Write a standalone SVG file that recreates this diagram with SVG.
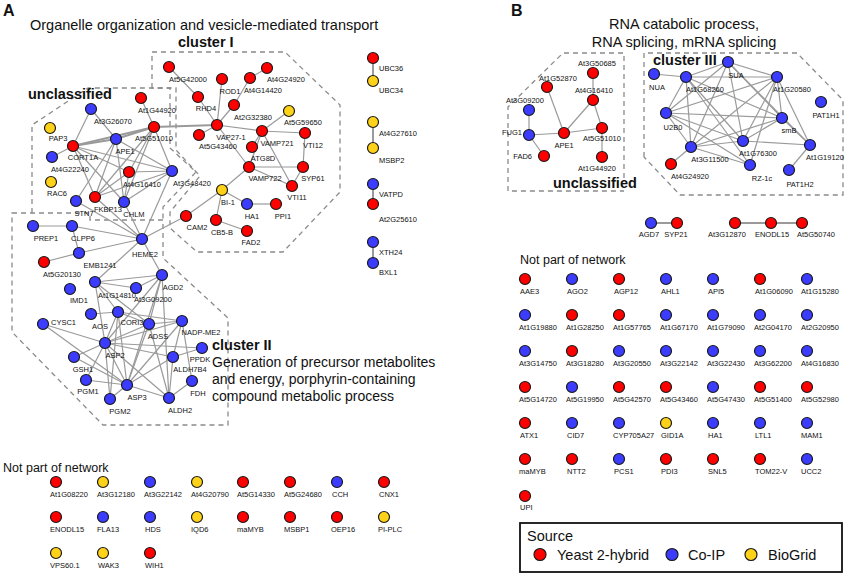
<svg xmlns="http://www.w3.org/2000/svg" width="852" height="576" viewBox="0 0 852 576">
<style>
text{font-family:"Liberation Sans",Arial,sans-serif;fill:#111}
.n circle{stroke:#1a1a1a;stroke-width:1.2}
.r{fill:#ff0000}.b{fill:#3c3cff}.y{fill:#ffd21a}
.n text{font-size:7.5px;text-anchor:middle}
.n text.s{text-anchor:start}
.n text.e{text-anchor:end}
#edges line{stroke:#9a9a9a;stroke-width:1.2}
#edges line.t{stroke-width:2}
.d{fill:none;stroke:#8a8a8a;stroke-width:1.3;stroke-dasharray:5 4}
.h{font-size:14.5px}
.bh{font-size:14.5px;font-weight:bold}
.np{font-size:12.5px}
.pl{font-size:16px;font-weight:bold}
</style>
<rect width="852" height="576" fill="#fff"/>
<text class="pl" x="3" y="16">A</text>
<text class="pl" x="511" y="16">B</text>
<text class="h" x="30" y="30">Organelle organization and vesicle-mediated transport</text>
<text class="h" x="684" y="29" text-anchor="middle">RNA catabolic process,</text>
<text class="h" x="684" y="47" text-anchor="middle">RNA splicing, mRNA splicing</text>
<g id="regions">
<path class="d" d="M152,88 L152,52 L285,52 L340,105 L340,192 L283,252 L197,252 L170,228 L170,212 L200,176 L176,150 L176,88 Z"/>
<path class="d" d="M32,213 L32,125 L88,88 L170,88 L170,148 L196,172 L163,207 L163,220"/>
<path class="d" d="M12,213 L90,213 L90,220 L163,220 L163,258 L228,318 L228,425 L103,425 L12,332 Z"/>
<path class="d" d="M624,178 L624,53 L563,53 L508,107 L508,191 L624,191"/>
<path class="d" d="M644,157 L644,53 L797,53 L843,100 L843,195 L680,195 Z"/>
</g>
<text class="bh" x="178" y="47">cluster I</text>
<text class="bh" x="28" y="99">unclassified</text>
<text class="bh" x="212" y="350">cluster II</text>
<text font-size="14" x="212" y="367">Generation of precursor metabolites</text>
<text font-size="14" x="212" y="384">and energy, porphyrin-containing</text>
<text font-size="14" x="212" y="401">compound metabolic process</text>
<text class="bh" x="553" y="188">unclassified</text>
<text class="bh" x="653" y="65">cluster III</text>
<g id="edges">
<line x1="169" y1="67" x2="198" y2="97"/><line x1="198" y1="97" x2="217" y2="125"/><line x1="222" y1="79" x2="217" y2="125"/>
<line x1="267" y1="68" x2="250" y2="78"/><line x1="250" y1="78" x2="234" y2="105"/><line x1="234" y1="105" x2="217" y2="125"/>
<line class="t" x1="217" y1="125" x2="154" y2="127"/><line x1="217" y1="125" x2="262" y2="131"/><line x1="217" y1="125" x2="249" y2="167"/><line x1="217" y1="125" x2="199" y2="135"/>
<line x1="289" y1="111" x2="262" y2="131"/><line x1="262" y1="131" x2="305" y2="133"/><line x1="262" y1="131" x2="252" y2="147"/><line x1="262" y1="131" x2="292" y2="186"/>
<line x1="305" y1="133" x2="303" y2="167"/><line x1="262" y1="131" x2="249" y2="167"/><line x1="249" y1="167" x2="303" y2="167"/><line x1="249" y1="167" x2="292" y2="186"/>
<line x1="303" y1="167" x2="292" y2="186"/><line x1="249" y1="167" x2="222" y2="190"/><line x1="222" y1="190" x2="247" y2="204"/><line x1="247" y1="204" x2="276" y2="204"/>
<line x1="222" y1="190" x2="216" y2="220"/><line x1="216" y1="220" x2="247" y2="231"/><line x1="222" y1="190" x2="186" y2="216"/><line x1="186" y1="216" x2="142" y2="239"/>
<line x1="91" y1="109" x2="73" y2="146"/><line x1="91" y1="109" x2="116" y2="139"/><line x1="52" y1="157" x2="73" y2="146"/><line class="t" x1="73" y1="146" x2="116" y2="139"/>
<line class="t" x1="73" y1="146" x2="154" y2="127"/><line x1="73" y1="146" x2="129" y2="172"/><line x1="73" y1="146" x2="172" y2="171"/><line x1="73" y1="146" x2="95" y2="197"/>
<line x1="73" y1="146" x2="124" y2="202"/><line class="t" x1="116" y1="139" x2="154" y2="127"/><line x1="116" y1="139" x2="76" y2="201"/><line x1="116" y1="139" x2="95" y2="197"/>
<line x1="116" y1="139" x2="124" y2="202"/><line x1="116" y1="139" x2="172" y2="171"/><line x1="141" y1="98" x2="154" y2="127"/><line x1="154" y1="127" x2="172" y2="171"/>
<line x1="154" y1="127" x2="95" y2="197"/><line x1="154" y1="127" x2="124" y2="202"/><line x1="154" y1="127" x2="129" y2="172"/><line x1="129" y1="172" x2="95" y2="197"/>
<line x1="129" y1="172" x2="124" y2="202"/><line x1="129" y1="172" x2="172" y2="171"/><line x1="172" y1="171" x2="95" y2="197"/><line x1="172" y1="171" x2="124" y2="202"/>
<line x1="172" y1="171" x2="142" y2="239"/><line x1="95" y1="197" x2="142" y2="239"/><line x1="124" y1="202" x2="142" y2="239"/><line x1="76" y1="201" x2="142" y2="239"/>
<line x1="33" y1="226" x2="72" y2="226"/><line x1="72" y1="226" x2="142" y2="239"/><line x1="72" y1="226" x2="79" y2="253"/><line x1="79" y1="253" x2="44" y2="262"/>
<line x1="79" y1="253" x2="142" y2="239"/><line x1="142" y1="239" x2="95" y2="282"/><line x1="142" y1="239" x2="162" y2="275"/><line x1="95" y1="282" x2="136" y2="288"/>
<line x1="95" y1="282" x2="162" y2="275"/><line x1="95" y1="282" x2="118" y2="312"/><line x1="95" y1="282" x2="105" y2="343"/><line x1="95" y1="282" x2="149" y2="324"/>
<line x1="162" y1="275" x2="136" y2="288"/><line x1="162" y1="275" x2="149" y2="324"/><line x1="162" y1="275" x2="105" y2="343"/><line x1="162" y1="275" x2="127" y2="385"/>
<line x1="162" y1="275" x2="169" y2="398"/><line x1="91" y1="314" x2="118" y2="312"/><line x1="118" y1="312" x2="149" y2="324"/><line x1="118" y1="312" x2="105" y2="343"/>
<line x1="118" y1="312" x2="127" y2="385"/><line x1="118" y1="312" x2="110" y2="399"/><line x1="118" y1="312" x2="182" y2="321"/><line x1="43" y1="324" x2="105" y2="343"/>
<line x1="43" y1="324" x2="127" y2="385"/><line x1="149" y1="324" x2="182" y2="321"/><line x1="149" y1="324" x2="105" y2="343"/><line x1="149" y1="324" x2="127" y2="385"/>
<line x1="149" y1="324" x2="169" y2="398"/><line x1="182" y1="321" x2="105" y2="343"/><line x1="182" y1="321" x2="127" y2="385"/><line x1="182" y1="321" x2="192" y2="381"/>
<line x1="182" y1="321" x2="173" y2="357"/><line x1="105" y1="343" x2="202" y2="348"/><line x1="105" y1="343" x2="173" y2="357"/><line x1="105" y1="343" x2="74" y2="357"/>
<line x1="105" y1="343" x2="127" y2="385"/><line x1="105" y1="343" x2="86" y2="380"/><line x1="105" y1="343" x2="110" y2="399"/><line x1="105" y1="343" x2="169" y2="398"/>
<line x1="202" y1="348" x2="173" y2="357"/><line x1="173" y1="357" x2="169" y2="398"/><line x1="173" y1="357" x2="127" y2="385"/><line x1="74" y1="357" x2="127" y2="385"/>
<line x1="86" y1="380" x2="127" y2="385"/><line x1="110" y1="399" x2="127" y2="385"/><line x1="127" y1="385" x2="169" y2="398"/><line x1="192" y1="381" x2="169" y2="398"/>
<line class="t" x1="373" y1="58" x2="373" y2="81"/><line class="t" x1="373" y1="122" x2="373" y2="148"/><line class="t" x1="373" y1="184" x2="373" y2="204"/><line class="t" x1="373" y1="242" x2="373" y2="263"/>
<line x1="593" y1="73" x2="593" y2="100"/><line x1="547" y1="87" x2="564" y2="133"/><line x1="593" y1="100" x2="564" y2="133"/><line x1="593" y1="100" x2="602" y2="128"/>
<line x1="564" y1="133" x2="602" y2="128"/><line x1="602" y1="128" x2="602" y2="157"/><line x1="529" y1="110" x2="529" y2="135"/><line x1="529" y1="135" x2="564" y2="133"/><line x1="529" y1="135" x2="544" y2="156"/>
<line x1="654" y1="74" x2="686" y2="77"/><line x1="686" y1="77" x2="728" y2="62"/><line x1="686" y1="77" x2="777" y2="77"/><line x1="686" y1="77" x2="666" y2="113"/>
<line x1="686" y1="77" x2="782" y2="118"/><line x1="686" y1="77" x2="743" y2="141"/><line x1="686" y1="77" x2="691" y2="147"/><line x1="686" y1="77" x2="750" y2="165"/>
<line x1="728" y1="62" x2="777" y2="77"/><line x1="728" y1="62" x2="666" y2="113"/><line x1="728" y1="62" x2="782" y2="118"/><line x1="728" y1="62" x2="743" y2="141"/>
<line x1="728" y1="62" x2="691" y2="147"/><line x1="728" y1="62" x2="810" y2="145"/><line x1="777" y1="77" x2="666" y2="113"/><line x1="777" y1="77" x2="782" y2="118"/>
<line x1="777" y1="77" x2="743" y2="141"/><line x1="777" y1="77" x2="691" y2="147"/><line x1="777" y1="77" x2="810" y2="145"/><line x1="777" y1="77" x2="750" y2="165"/>
<line x1="666" y1="113" x2="782" y2="118"/><line x1="666" y1="113" x2="691" y2="147"/><line x1="666" y1="113" x2="743" y2="141"/><line x1="666" y1="113" x2="750" y2="165"/>
<line x1="782" y1="118" x2="691" y2="147"/><line x1="782" y1="118" x2="743" y2="141"/><line x1="782" y1="118" x2="810" y2="145"/><line x1="691" y1="147" x2="743" y2="141"/>
<line x1="743" y1="141" x2="810" y2="145"/><line x1="691" y1="147" x2="671" y2="164"/><line x1="691" y1="147" x2="750" y2="165"/><line x1="810" y1="145" x2="789" y2="170"/>
<line class="t" x1="651" y1="223" x2="677" y2="223"/><line class="t" x1="735" y1="223" x2="771" y2="223"/><line class="t" x1="771" y1="223" x2="802" y2="223"/>
</g>
<g id="nodesA">
<g class="n" id="nA_At5G42000"><circle class="r" cx="169" cy="67" r="5.5"/><text x="188" y="81.5">At5G42000</text></g>
<g class="n" id="nA_ROD1"><circle class="r" cx="222" cy="79" r="5.5"/><text x="230" y="93.5">ROD1</text></g>
<g class="n" id="nA_At4G24920"><circle class="r" cx="267" cy="68" r="5.5"/><text x="286" y="82">At4G24920</text></g>
<g class="n" id="nA_At4G14420"><circle class="r" cx="250" cy="78" r="5.5"/><text x="263" y="93">At4G14420</text></g>
<g class="n" id="nA_RHD4"><circle class="r" cx="198" cy="97" r="5.5"/><text x="206" y="111">RHD4</text></g>
<g class="n" id="nA_At2G32380"><circle class="r" cx="234" cy="105" r="5.5"/><text x="253" y="119.5">At2G32380</text></g>
<g class="n" id="nA_At5G59650"><circle class="y" cx="289" cy="111" r="5.5"/><text x="303" y="125">At5G59650</text></g>
<g class="n" id="nA_VAP27-1"><circle class="r" cx="217" cy="125" r="5.5"/><text x="231" y="139.5">VAP27-1</text></g>
<g class="n" id="nA_At5G43460"><circle class="r" cx="199" cy="135" r="5.5"/><text x="218" y="149">At5G43460</text></g>
<g class="n" id="nA_VAMP721"><circle class="r" cx="262" cy="131" r="5.5"/><text x="277" y="145.5">VAMP721</text></g>
<g class="n" id="nA_VTI12"><circle class="r" cx="305" cy="133" r="5.5"/><text x="313" y="148">VTI12</text></g>
<g class="n" id="nA_ATG8D"><circle class="r" cx="252" cy="147" r="5.5"/><text x="263" y="161">ATG8D</text></g>
<g class="n" id="nA_VAMP722"><circle class="r" cx="249" cy="167" r="5.5"/><text x="265" y="180.5">VAMP722</text></g>
<g class="n" id="nA_SYP61"><circle class="r" cx="303" cy="167" r="5.5"/><text x="313" y="180.5">SYP61</text></g>
<g class="n" id="nA_VTI11"><circle class="r" cx="292" cy="186" r="5.5"/><text x="297" y="199.5">VTI11</text></g>
<g class="n" id="nA_BI-1"><circle class="y" cx="222" cy="190" r="5.5"/><text x="228" y="204.5">BI-1</text></g>
<g class="n" id="nA_HA1"><circle class="b" cx="247" cy="204" r="5.5"/><text x="252" y="218.5">HA1</text></g>
<g class="n" id="nA_PPI1"><circle class="r" cx="276" cy="204" r="5.5"/><text x="283" y="218.5">PPI1</text></g>
<g class="n" id="nA_CAM2"><circle class="r" cx="186" cy="216" r="5.5"/><text x="197" y="230">CAM2</text></g>
<g class="n" id="nA_CB5-B"><circle class="r" cx="216" cy="220" r="5.5"/><text x="222" y="234.5">CB5-B</text></g>
<g class="n" id="nA_FAD2"><circle class="r" cx="247" cy="231" r="5.5"/><text x="251" y="245">FAD2</text></g>
<g class="n" id="nA_At1G44920"><circle class="r" cx="141" cy="98" r="5.5"/><text x="157" y="113">At1G44920</text></g>
<g class="n" id="nA_At5G51010"><circle class="r" cx="154" cy="127" r="5.5"/><text x="154" y="141">At5G51010</text></g>
<g class="n" id="nA_At3G26070"><circle class="b" cx="91" cy="109" r="5.5"/><text x="113" y="123.5">At3G26070</text></g>
<g class="n" id="nA_PAP3"><circle class="y" cx="50" cy="128" r="5.5"/><text x="58" y="141">PAP3</text></g>
<g class="n" id="nA_CORT1A"><circle class="r" cx="73" cy="146" r="5.5"/><text x="83" y="160">CORT1A</text></g>
<g class="n" id="nA_APE1"><circle class="b" cx="116" cy="139" r="5.5"/><text x="125" y="153.5">APE1</text></g>
<g class="n" id="nA_At4G22240"><circle class="b" cx="52" cy="157" r="5.5"/><text x="70" y="172">At4G22240</text></g>
<g class="n" id="nA_At4G16410"><circle class="r" cx="129" cy="172" r="5.5"/><text x="142" y="187">At4G16410</text></g>
<g class="n" id="nA_At3G48420"><circle class="b" cx="172" cy="171" r="5.5"/><text x="192" y="186">At3G48420</text></g>
<g class="n" id="nA_RAC6"><circle class="y" cx="51" cy="182" r="5.5"/><text x="57" y="196">RAC6</text></g>
<g class="n" id="nA_STN7"><circle class="b" cx="76" cy="201" r="5.5"/><text x="84" y="216">STN7</text></g>
<g class="n" id="nA_FKBP13"><circle class="r" cx="95" cy="197" r="5.5"/><text x="108" y="211.5">FKBP13</text></g>
<g class="n" id="nA_CHLM"><circle class="b" cx="124" cy="202" r="5.5"/><text x="134" y="217">CHLM</text></g>
<g class="n" id="nA_PREP1"><circle class="b" cx="33" cy="226" r="5.5"/><text x="46" y="240.5">PREP1</text></g>
<g class="n" id="nA_CLPP6"><circle class="b" cx="72" cy="226" r="5.5"/><text x="83" y="240.5">CLPP6</text></g>
<g class="n" id="nA_HEME2"><circle class="b" cx="142" cy="239" r="5.5"/><text x="145" y="256.5">HEME2</text></g>
<g class="n" id="nA_EMB1241"><circle class="b" cx="79" cy="253" r="5.5"/><text x="100" y="268">EMB1241</text></g>
<g class="n" id="nA_At5G20130"><circle class="r" cx="44" cy="262" r="5.5"/><text x="62" y="277">At5G20130</text></g>
<g class="n" id="nA_At1G14810"><circle class="b" cx="95" cy="282" r="5.5"/><text x="117" y="298">At1G14810</text></g>
<g class="n" id="nA_IMD1"><circle class="b" cx="70" cy="289" r="5.5"/><text x="79" y="303">IMD1</text></g>
<g class="n" id="nA_At3G09200"><circle class="b" cx="136" cy="288" r="5.5"/><text x="153" y="302">At3G09200</text></g>
<g class="n" id="nA_AGD2"><circle class="b" cx="162" cy="275" r="5.5"/><text x="173" y="289.5">AGD2</text></g>
<g class="n" id="nA_AOS"><circle class="b" cx="91" cy="314" r="5.5"/><text x="100" y="328.5">AOS</text></g>
<g class="n" id="nA_CORI3"><circle class="b" cx="118" cy="312" r="5.5"/><text x="132" y="325">CORI3</text></g>
<g class="n" id="nA_CYSC1"><circle class="b" cx="43" cy="324" r="5.5"/><text class="s" x="51" y="325">CYSC1</text></g>
<g class="n" id="nA_ADSS"><circle class="b" cx="149" cy="324" r="5.5"/><text x="158" y="338.5">ADSS</text></g>
<g class="n" id="nA_NADP-ME2"><circle class="b" cx="182" cy="321" r="5.5"/><text x="201" y="335">NADP-ME2</text></g>
<g class="n" id="nA_ASP2"><circle class="b" cx="105" cy="343" r="5.5"/><text x="115" y="358">ASP2</text></g>
<g class="n" id="nA_PPDK"><circle class="b" cx="202" cy="348" r="5.5"/><text x="200" y="362">PPDK</text></g>
<g class="n" id="nA_ALDH7B4"><circle class="b" cx="173" cy="357" r="5.5"/><text x="190" y="372">ALDH7B4</text></g>
<g class="n" id="nA_GSH1"><circle class="b" cx="74" cy="357" r="5.5"/><text x="83" y="372">GSH1</text></g>
<g class="n" id="nA_PGM1"><circle class="b" cx="86" cy="380" r="5.5"/><text x="88" y="394">PGM1</text></g>
<g class="n" id="nA_ASP3"><circle class="b" cx="127" cy="385" r="5.5"/><text x="137" y="399.5">ASP3</text></g>
<g class="n" id="nA_FDH"><circle class="b" cx="192" cy="381" r="5.5"/><text x="198" y="396">FDH</text></g>
<g class="n" id="nA_PGM2"><circle class="b" cx="110" cy="399" r="5.5"/><text x="120" y="413.5">PGM2</text></g>
<g class="n" id="nA_ALDH2"><circle class="b" cx="169" cy="398" r="5.5"/><text x="180" y="413">ALDH2</text></g>
<g class="n" id="nA_UBC36"><circle class="r" cx="373" cy="58" r="5.5"/><text class="s" x="379" y="71">UBC36</text></g>
<g class="n" id="nA_UBC34"><circle class="y" cx="373" cy="81" r="5.5"/><text class="s" x="379" y="93">UBC34</text></g>
<g class="n" id="nA_At4G27610"><circle class="y" cx="373" cy="122" r="5.5"/><text class="s" x="379" y="135.5">At4G27610</text></g>
<g class="n" id="nA_MSBP2"><circle class="y" cx="373" cy="148" r="5.5"/><text class="s" x="379" y="163">MSBP2</text></g>
<g class="n" id="nA_VATPD"><circle class="b" cx="373" cy="184" r="5.5"/><text class="s" x="379" y="197">VATPD</text></g>
<g class="n" id="nA_At2G25610"><circle class="r" cx="373" cy="204" r="5.5"/><text class="s" x="379" y="222">At2G25610</text></g>
<g class="n" id="nA_XTH24"><circle class="b" cx="373" cy="242" r="5.5"/><text class="s" x="379" y="254.5">XTH24</text></g>
<g class="n" id="nA_BXL1"><circle class="b" cx="373" cy="263" r="5.5"/><text class="s" x="379" y="275">BXL1</text></g>
</g>
<text class="np" x="3" y="472">Not part of network</text>
<g id="notpartA">
<g class="n" id="xA1"><circle class="r" cx="56" cy="482" r="5.5"/><text class="s" x="50" y="497">At1G08220</text></g>
<g class="n" id="xA2"><circle class="y" cx="103" cy="482" r="5.5"/><text class="s" x="97" y="497">At3G12180</text></g>
<g class="n" id="xA3"><circle class="b" cx="150" cy="482" r="5.5"/><text class="s" x="144" y="497">At3G22142</text></g>
<g class="n" id="xA4"><circle class="y" cx="197" cy="482" r="5.5"/><text class="s" x="191" y="497">At4G20790</text></g>
<g class="n" id="xA5"><circle class="r" cx="243" cy="482" r="5.5"/><text class="s" x="237" y="497">At5G14330</text></g>
<g class="n" id="xA6"><circle class="r" cx="290" cy="482" r="5.5"/><text class="s" x="284" y="497">At5G24680</text></g>
<g class="n" id="xA7"><circle class="b" cx="337" cy="482" r="5.5"/><text class="s" x="332" y="497">CCH</text></g>
<g class="n" id="xA8"><circle class="r" cx="384" cy="482" r="5.5"/><text class="s" x="379" y="497">CNX1</text></g>
<g class="n" id="xA9"><circle class="r" cx="56" cy="517" r="5.5"/><text class="s" x="50" y="532">ENODL15</text></g>
<g class="n" id="xA10"><circle class="b" cx="103" cy="517" r="5.5"/><text class="s" x="97" y="532">FLA13</text></g>
<g class="n" id="xA11"><circle class="b" cx="150" cy="517" r="5.5"/><text class="s" x="145" y="532">HDS</text></g>
<g class="n" id="xA12"><circle class="y" cx="197" cy="517" r="5.5"/><text class="s" x="191" y="532">IQD6</text></g>
<g class="n" id="xA13"><circle class="r" cx="243" cy="517" r="5.5"/><text class="s" x="237" y="532">maMYB</text></g>
<g class="n" id="xA14"><circle class="r" cx="290" cy="517" r="5.5"/><text class="s" x="284" y="532">MSBP1</text></g>
<g class="n" id="xA15"><circle class="r" cx="337" cy="517" r="5.5"/><text class="s" x="331" y="532">OEP16</text></g>
<g class="n" id="xA16"><circle class="y" cx="384" cy="517" r="5.5"/><text class="s" x="378" y="532">PI-PLC</text></g>
<g class="n" id="xA17"><circle class="y" cx="56" cy="553" r="5.5"/><text class="s" x="50" y="568">VPS60.1</text></g>
<g class="n" id="xA18"><circle class="y" cx="103" cy="553" r="5.5"/><text class="s" x="98" y="568">WAK3</text></g>
<g class="n" id="xA19"><circle class="r" cx="150" cy="553" r="5.5"/><text class="s" x="145" y="568">WIH1</text></g>
</g>
<g id="nodesB">
<g class="n" id="nB_At3G50685"><circle class="r" cx="593" cy="73" r="5.5"/><text x="597" y="65.5">At3G50685</text></g>
<g class="n" id="nB_At1G52870"><circle class="r" cx="547" cy="87" r="5.5"/><text x="558" y="81">At1G52870</text></g>
<g class="n" id="nB_At4G16410"><circle class="r" cx="593" cy="100" r="5.5"/><text x="594" y="92.5">At4G16410</text></g>
<g class="n" id="nB_At3G09200"><circle class="b" cx="529" cy="110" r="5.5"/><text x="525" y="102.5">At3G09200</text></g>
<g class="n" id="nB_FUG1"><circle class="b" cx="529" cy="135" r="5.5"/><text class="e" x="522" y="134.5">FUG1</text></g>
<g class="n" id="nB_APE1"><circle class="r" cx="564" cy="133" r="5.5"/><text x="564" y="147.5">APE1</text></g>
<g class="n" id="nB_At5G51010"><circle class="r" cx="602" cy="128" r="5.5"/><text x="602" y="141">At5G51010</text></g>
<g class="n" id="nB_FAD6"><circle class="r" cx="544" cy="156" r="5.5"/><text class="e" x="532" y="158.5">FAD6</text></g>
<g class="n" id="nB_At1G44920"><circle class="r" cx="602" cy="157" r="5.5"/><text x="597" y="171">At1G44920</text></g>
<g class="n" id="nB_NUA"><circle class="b" cx="654" cy="74" r="5.5"/><text x="657" y="89.5">NUA</text></g>
<g class="n" id="nB_At1G68260"><circle class="b" cx="686" cy="77" r="5.5"/><text x="705" y="91.5">At1G68260</text></g>
<g class="n" id="nB_SUA"><circle class="b" cx="728" cy="62" r="5.5"/><text x="736" y="77.5">SUA</text></g>
<g class="n" id="nB_At1G20580"><circle class="b" cx="777" cy="77" r="5.5"/><text x="792" y="92">At1G20580</text></g>
<g class="n" id="nB_PAT1H1"><circle class="b" cx="821" cy="102" r="5.5"/><text x="826" y="117.5">PAT1H1</text></g>
<g class="n" id="nB_U2B0"><circle class="b" cx="666" cy="113" r="5.5"/><text x="673" y="129.5">U2B0</text></g>
<g class="n" id="nB_smB"><circle class="b" cx="782" cy="118" r="5.5"/><text x="789" y="132.5">smB</text></g>
<g class="n" id="nB_At1G76300"><circle class="b" cx="743" cy="141" r="5.5"/><text x="758" y="156">At1G76300</text></g>
<g class="n" id="nB_At1G19120"><circle class="b" cx="810" cy="145" r="5.5"/><text x="825" y="160">At1G19120</text></g>
<g class="n" id="nB_At3G11500"><circle class="b" cx="691" cy="147" r="5.5"/><text x="710" y="161.5">At3G11500</text></g>
<g class="n" id="nB_At4G24920"><circle class="r" cx="671" cy="164" r="5.5"/><text x="690" y="178.5">At4G24920</text></g>
<g class="n" id="nB_RZ-1c"><circle class="b" cx="750" cy="165" r="5.5"/><text x="762" y="180.5">RZ-1c</text></g>
<g class="n" id="nB_PAT1H2"><circle class="b" cx="789" cy="170" r="5.5"/><text x="800" y="186.5">PAT1H2</text></g>
<g class="n" id="nB_AGD7"><circle class="b" cx="651" cy="223" r="5.5"/><text x="649" y="237">AGD7</text></g>
<g class="n" id="nB_SYP21"><circle class="r" cx="677" cy="223" r="5.5"/><text x="676" y="237">SYP21</text></g>
<g class="n" id="nB_At3G12870"><circle class="r" cx="735" cy="223" r="5.5"/><text x="727" y="237">At3G12870</text></g>
<g class="n" id="nB_ENODL15"><circle class="r" cx="771" cy="223" r="5.5"/><text x="772" y="237">ENODL15</text></g>
<g class="n" id="nB_At5G50740"><circle class="r" cx="802" cy="223" r="5.5"/><text x="816" y="237">At5G50740</text></g>
</g>
<text class="np" x="520" y="264">Not part of network</text>
<g id="notpartB">
<g class="n" id="xB1"><circle class="r" cx="525" cy="279" r="5.5"/><text class="s" x="520" y="294">AAE3</text></g>
<g class="n" id="xB2"><circle class="b" cx="572" cy="279" r="5.5"/><text class="s" x="567" y="294">AGO2</text></g>
<g class="n" id="xB3"><circle class="r" cx="619" cy="279" r="5.5"/><text class="s" x="614" y="294">AGP12</text></g>
<g class="n" id="xB4"><circle class="b" cx="666" cy="279" r="5.5"/><text class="s" x="661" y="294">AHL1</text></g>
<g class="n" id="xB5"><circle class="b" cx="713" cy="279" r="5.5"/><text class="s" x="708" y="294">API5</text></g>
<g class="n" id="xB6"><circle class="r" cx="760" cy="279" r="5.5"/><text class="s" x="755" y="294">At1G06090</text></g>
<g class="n" id="xB7"><circle class="b" cx="807" cy="279" r="5.5"/><text class="s" x="801" y="294">At1G15280</text></g>
<g class="n" id="xB8"><circle class="b" cx="525" cy="315" r="5.5"/><text class="s" x="519" y="330">At1G19880</text></g>
<g class="n" id="xB9"><circle class="r" cx="572" cy="315" r="5.5"/><text class="s" x="566" y="330">At1G28250</text></g>
<g class="n" id="xB10"><circle class="r" cx="619" cy="315" r="5.5"/><text class="s" x="613" y="330">At1G57765</text></g>
<g class="n" id="xB11"><circle class="b" cx="666" cy="315" r="5.5"/><text class="s" x="660" y="330">At1G67170</text></g>
<g class="n" id="xB12"><circle class="b" cx="713" cy="315" r="5.5"/><text class="s" x="707" y="330">At1G79090</text></g>
<g class="n" id="xB13"><circle class="b" cx="760" cy="315" r="5.5"/><text class="s" x="754" y="330">At2G04170</text></g>
<g class="n" id="xB14"><circle class="b" cx="807" cy="315" r="5.5"/><text class="s" x="801" y="330">At2G20950</text></g>
<g class="n" id="xB15"><circle class="b" cx="525" cy="351" r="5.5"/><text class="s" x="519" y="366">At3G14750</text></g>
<g class="n" id="xB16"><circle class="r" cx="572" cy="351" r="5.5"/><text class="s" x="566" y="366">At3G18280</text></g>
<g class="n" id="xB17"><circle class="b" cx="619" cy="351" r="5.5"/><text class="s" x="613" y="366">At3G20550</text></g>
<g class="n" id="xB18"><circle class="b" cx="666" cy="351" r="5.5"/><text class="s" x="660" y="366">At3G22142</text></g>
<g class="n" id="xB19"><circle class="b" cx="713" cy="351" r="5.5"/><text class="s" x="707" y="366">At3G22430</text></g>
<g class="n" id="xB20"><circle class="b" cx="760" cy="351" r="5.5"/><text class="s" x="754" y="366">At3G62200</text></g>
<g class="n" id="xB21"><circle class="b" cx="807" cy="351" r="5.5"/><text class="s" x="801" y="366">At4G16830</text></g>
<g class="n" id="xB22"><circle class="r" cx="525" cy="387" r="5.5"/><text class="s" x="519" y="402">At5G14720</text></g>
<g class="n" id="xB23"><circle class="b" cx="572" cy="387" r="5.5"/><text class="s" x="566" y="402">At5G19950</text></g>
<g class="n" id="xB24"><circle class="r" cx="619" cy="387" r="5.5"/><text class="s" x="613" y="402">At5G42570</text></g>
<g class="n" id="xB25"><circle class="r" cx="666" cy="387" r="5.5"/><text class="s" x="660" y="402">At5G43460</text></g>
<g class="n" id="xB26"><circle class="b" cx="713" cy="387" r="5.5"/><text class="s" x="707" y="402">At5G47430</text></g>
<g class="n" id="xB27"><circle class="r" cx="760" cy="387" r="5.5"/><text class="s" x="754" y="402">At5G51400</text></g>
<g class="n" id="xB28"><circle class="r" cx="807" cy="387" r="5.5"/><text class="s" x="801" y="402">At5G52980</text></g>
<g class="n" id="xB29"><circle class="r" cx="525" cy="423" r="5.5"/><text class="s" x="520" y="438">ATX1</text></g>
<g class="n" id="xB30"><circle class="b" cx="572" cy="423" r="5.5"/><text class="s" x="567" y="438">CID7</text></g>
<g class="n" id="xB31"><circle class="b" cx="619" cy="423" r="5.5"/><text class="s" x="613" y="438">CYP705A27</text></g>
<g class="n" id="xB32"><circle class="y" cx="666" cy="423" r="5.5"/><text class="s" x="661" y="438">GID1A</text></g>
<g class="n" id="xB33"><circle class="b" cx="713" cy="423" r="5.5"/><text class="s" x="708" y="438">HA1</text></g>
<g class="n" id="xB34"><circle class="b" cx="760" cy="423" r="5.5"/><text class="s" x="755" y="438">LTL1</text></g>
<g class="n" id="xB35"><circle class="b" cx="807" cy="423" r="5.5"/><text class="s" x="801" y="438">MAM1</text></g>
<g class="n" id="xB36"><circle class="r" cx="525" cy="459" r="5.5"/><text class="s" x="519" y="474">maMYB</text></g>
<g class="n" id="xB37"><circle class="r" cx="572" cy="459" r="5.5"/><text class="s" x="567" y="474">NTT2</text></g>
<g class="n" id="xB38"><circle class="b" cx="619" cy="459" r="5.5"/><text class="s" x="614" y="474">PCS1</text></g>
<g class="n" id="xB39"><circle class="r" cx="666" cy="459" r="5.5"/><text class="s" x="661" y="474">PDI3</text></g>
<g class="n" id="xB40"><circle class="r" cx="713" cy="459" r="5.5"/><text class="s" x="708" y="474">SNL5</text></g>
<g class="n" id="xB41"><circle class="r" cx="760" cy="459" r="5.5"/><text class="s" x="755" y="474">TOM22-V</text></g>
<g class="n" id="xB42"><circle class="b" cx="807" cy="459" r="5.5"/><text class="s" x="801" y="474">UCC2</text></g>
<g class="n" id="xB43"><circle class="r" cx="525" cy="496" r="5.5"/><text class="s" x="520" y="510">UPI</text></g>
</g>
<g id="legend">
<rect x="520" y="523" width="322" height="49" fill="#fff" stroke="#111" stroke-width="1.8"/>
<text class="h" x="527" y="541">Source</text>
<g class="n"><circle class="r" cx="540" cy="554.5" r="6"/><circle class="b" cx="672" cy="554.5" r="6"/><circle class="y" cx="751" cy="554.5" r="6"/></g>
<text class="h" x="557" y="560">Yeast 2-hybrid</text>
<text class="h" x="688" y="560">Co-IP</text>
<text class="h" x="768" y="560">BioGrid</text>
</g>
</svg>
